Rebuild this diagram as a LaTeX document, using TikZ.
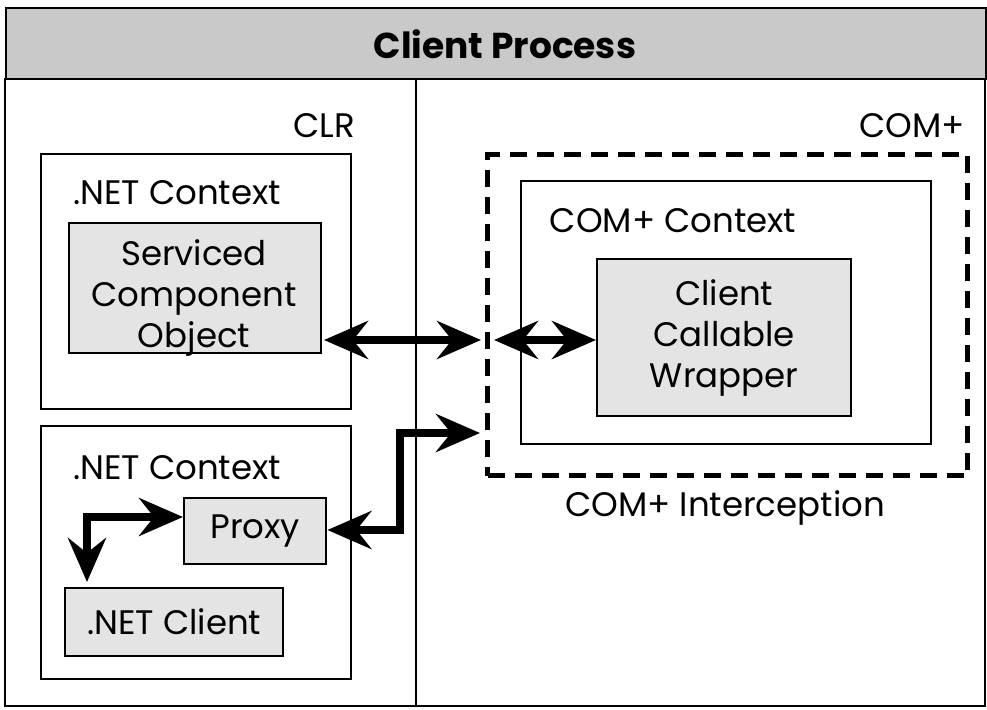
\documentclass[tikz,border=0pt]{standalone}
\usepackage{fontspec}
\setmainfont{Poppins}
\usetikzlibrary{arrows.meta,calc}
\definecolor{hdrgray}{HTML}{C9C9C9}
\definecolor{boxgray}{HTML}{E4E4E4}
\tikzset{
  frame/.style={draw=black,line width=2.2pt},
  ctxbox/.style={draw=black,line width=2.4pt,fill=white,anchor=north west},
  objbox/.style={draw=black,line width=2.4pt,fill=boxgray,anchor=north west,align=center,font=\fontsize{34}{41}\selectfont},
  lbl/.style={font=\fontsize{34}{41}\selectfont,inner sep=0pt,align=center},
  tip/.tip={Stealth[length=44pt,width=38pt,inset=15pt]},
  dblarrow/.style={line width=7.5pt,tip-tip}
}
\begin{document}
\begin{tikzpicture}[x=1pt,y=-1pt]
\useasboundingbox (0,0) rectangle (987,709);
% frame and header
\node[frame,fill=hdrgray,anchor=north west,minimum width=980pt,minimum height=71pt,inner sep=0pt] (hdr) at (5,7) {};
\node[font=\fontsize{36}{40}\selectfont\bfseries] (title) at (505,44) {Client Process};
\draw[frame] (5,78) -- (5,706) -- (985,706) -- (985,78);
\coordinate (divtop) at (416,78);
\coordinate (divbot) at (416,706);
\draw[frame] (divtop) -- (divbot);
\node[lbl,anchor=east] (clr) at (355,126) {CLR};
\node[lbl,anchor=east] (complus) at (965,126) {COM+};
% left top context
\node[ctxbox,minimum width=310pt,minimum height=255pt] (ctx1) at (40,153) {};
\node[lbl] (ctx1lbl) at (177,193) {.NET Context};
\node[objbox,minimum width=252pt,minimum height=130pt] (svc) at (68,222) {};
\node[lbl] (svclbl) at (194,298) {Serviced\\Component\\Object};
% left bottom context
\node[ctxbox,minimum width=310pt,minimum height=253pt] (ctx2) at (40,425) {};
\node[lbl] (ctx2lbl) at (177,468) {.NET Context};
\node[objbox,minimum width=142pt,minimum height=66pt] (proxy) at (183,497) {Proxy};
\node[objbox,minimum width=218pt,minimum height=68pt] (client) at (64,587) {.NET Client};
% COM+ side
\node[draw=black,line width=5pt,dash pattern=on 17pt off 10pt,anchor=north west,minimum width=480pt,minimum height=321pt] (icpt) at (485,152) {};
\node[ctxbox,minimum width=410pt,minimum height=263pt] (cctx) at (520,180) {};
\node[lbl] (cctxlbl) at (673,221) {COM+ Context};
\node[objbox,minimum width=254pt,minimum height=157pt] (ccw) at (596,258) {Client\\Callable\\Wrapper};
\node[lbl] (icptlbl) at (725,508) {COM+ Interception};
% arrows
\coordinate (a1l) at (324,340);
\coordinate (a1r) at (481,340);
\draw[dblarrow] (a1l) -- (a1r);
\coordinate (a2l) at (494,340);
\draw[dblarrow] (a2l) -- (ccw.west |- a2l);
\coordinate (a3t) at (480,433);
\coordinate (a3k) at (400,433);
\draw[dblarrow] (proxy.east |- 0,530) -| (a3k) -- (a3t);
\coordinate (a4k) at (87,517);
\draw[dblarrow] (proxy.west |- a4k) -- (a4k) -- (87,582);
\end{tikzpicture}
\end{document}
